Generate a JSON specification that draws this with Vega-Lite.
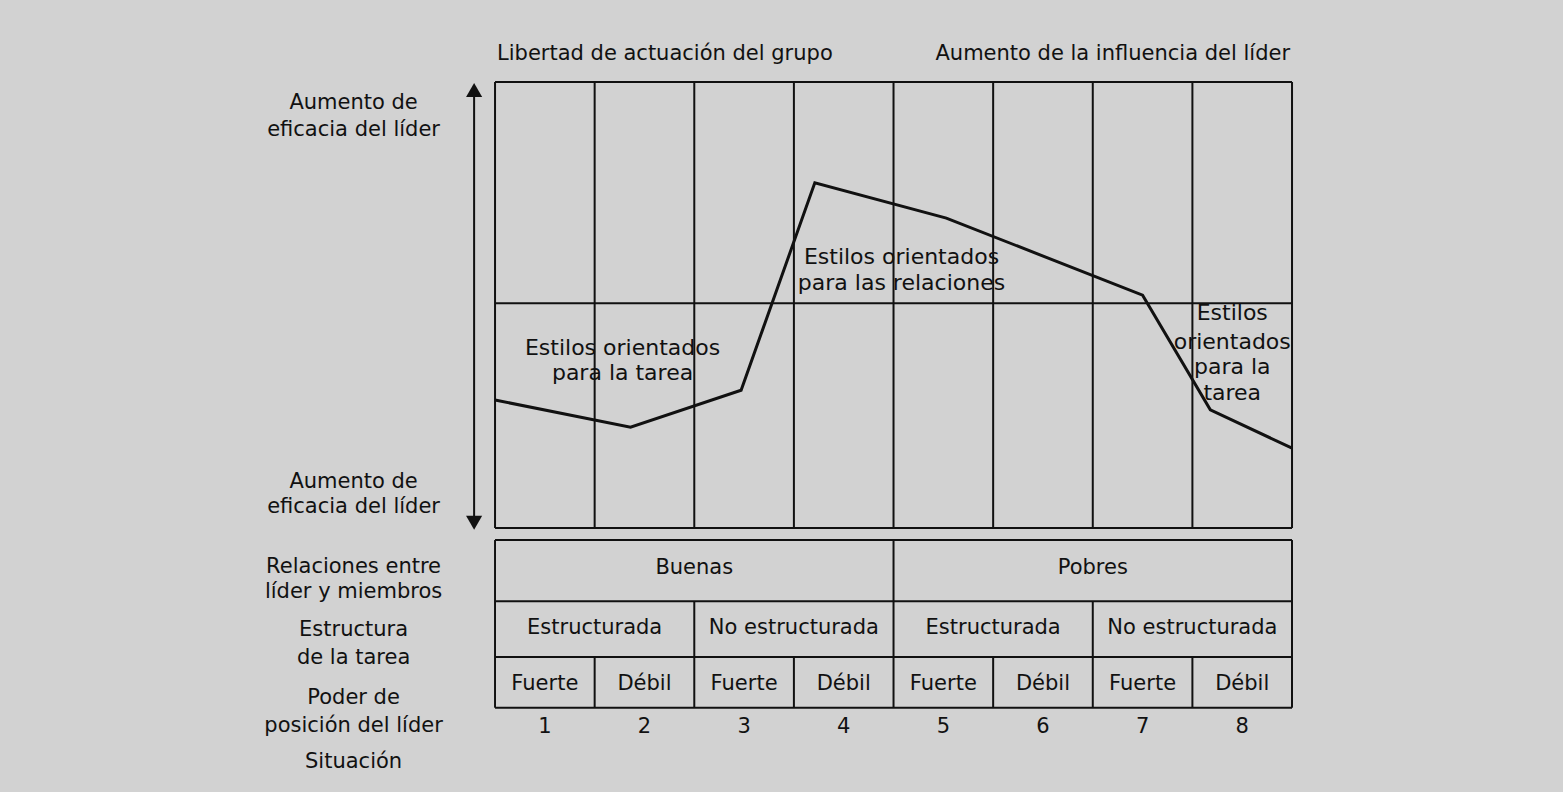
{
  "$schema": "https://vega.github.io/schema/vega-lite/v6.json",
  "width": 1563,
  "height": 792,
  "autosize": {"type": "fit", "contains": "padding"},
  "padding": 0,
  "background": "#d2d2d2",
  "config": {"view": {"stroke": null}, "text": {"font": "DejaVu Sans", "fontSize": 21, "color": "#111111"}},
  "datasets": {
    "rules": [
      {"x": 0, "x2": 0, "y": 0, "y2": 10},
      {"x": 1, "x2": 1, "y": 0, "y2": 10},
      {"x": 2, "x2": 2, "y": 0, "y2": 10},
      {"x": 3, "x2": 3, "y": 0, "y2": 10},
      {"x": 4, "x2": 4, "y": 0, "y2": 10},
      {"x": 5, "x2": 5, "y": 0, "y2": 10},
      {"x": 6, "x2": 6, "y": 0, "y2": 10},
      {"x": 7, "x2": 7, "y": 0, "y2": 10},
      {"x": 8, "x2": 8, "y": 0, "y2": 10},
      {"x": 0, "x2": 8, "y": 10, "y2": 10},
      {"x": 0, "x2": 8, "y": 5.04, "y2": 5.04},
      {"x": 0, "x2": 8, "y": 0, "y2": 0},
      {"x": 0, "x2": 8, "y": -0.27, "y2": -0.27},
      {"x": 0, "x2": 8, "y": -1.64, "y2": -1.64},
      {"x": 0, "x2": 8, "y": -2.89, "y2": -2.89},
      {"x": 0, "x2": 8, "y": -4.03, "y2": -4.03},
      {"x": 0, "x2": 0, "y": -0.27, "y2": -4.03},
      {"x": 4, "x2": 4, "y": -0.27, "y2": -4.03},
      {"x": 8, "x2": 8, "y": -0.27, "y2": -4.03},
      {"x": 2, "x2": 2, "y": -1.64, "y2": -4.03},
      {"x": 6, "x2": 6, "y": -1.64, "y2": -4.03},
      {"x": 1, "x2": 1, "y": -2.89, "y2": -4.03},
      {"x": 3, "x2": 3, "y": -2.89, "y2": -4.03},
      {"x": 5, "x2": 5, "y": -2.89, "y2": -4.03},
      {"x": 7, "x2": 7, "y": -2.89, "y2": -4.03},
      {"x": -0.21, "x2": -0.21, "y": 0.2, "y2": 9.8}
    ],
    "curve": [
      {"situation": 0, "efficacy": 2.87},
      {"situation": 1.36, "efficacy": 2.26},
      {"situation": 2.47, "efficacy": 3.09},
      {"situation": 3.21, "efficacy": 7.74},
      {"situation": 4.53, "efficacy": 6.95},
      {"situation": 6.5, "efficacy": 5.22},
      {"situation": 7.18, "efficacy": 2.65},
      {"situation": 8, "efficacy": 1.79}
    ],
    "arrows": [
      {"x": -0.21, "y": 9.82, "dir": "up"},
      {"x": -0.21, "y": 0.12, "dir": "down"}
    ],
    "centered": [
      {"x": -1.42, "y": 9.53, "label": "Aumento de"},
      {"x": -1.42, "y": 8.92, "label": "eficacia del líder"},
      {"x": -1.42, "y": 1.03, "label": "Aumento de"},
      {"x": -1.42, "y": 0.47, "label": "eficacia del líder"},
      {"x": -1.42, "y": -0.87, "label": "Relaciones entre"},
      {"x": -1.42, "y": -1.43, "label": "líder y miembros"},
      {"x": -1.42, "y": -2.29, "label": "Estructura"},
      {"x": -1.42, "y": -2.91, "label": "de la tarea"},
      {"x": -1.42, "y": -3.81, "label": "Poder de"},
      {"x": -1.42, "y": -4.44, "label": "posición del líder"},
      {"x": -1.42, "y": -5.25, "label": "Situación"},
      {"x": 2, "y": -0.9, "label": "Buenas"},
      {"x": 6, "y": -0.9, "label": "Pobres"},
      {"x": 1, "y": -2.25, "label": "Estructurada"},
      {"x": 3, "y": -2.25, "label": "No estructurada"},
      {"x": 5, "y": -2.25, "label": "Estructurada"},
      {"x": 7, "y": -2.25, "label": "No estructurada"},
      {"x": 0.5, "y": -3.5, "label": "Fuerte"},
      {"x": 1.5, "y": -3.5, "label": "Débil"},
      {"x": 2.5, "y": -3.5, "label": "Fuerte"},
      {"x": 3.5, "y": -3.5, "label": "Débil"},
      {"x": 4.5, "y": -3.5, "label": "Fuerte"},
      {"x": 5.5, "y": -3.5, "label": "Débil"},
      {"x": 6.5, "y": -3.5, "label": "Fuerte"},
      {"x": 7.5, "y": -3.5, "label": "Débil"},
      {"x": 0.5, "y": -4.46, "label": "1"},
      {"x": 1.5, "y": -4.46, "label": "2"},
      {"x": 2.5, "y": -4.46, "label": "3"},
      {"x": 3.5, "y": -4.46, "label": "4"},
      {"x": 4.5, "y": -4.46, "label": "5"},
      {"x": 5.5, "y": -4.46, "label": "6"},
      {"x": 6.5, "y": -4.46, "label": "7"},
      {"x": 7.5, "y": -4.46, "label": "8"}
    ],
    "inner": [
      {"x": 1.28, "y": 4.04, "label": "Estilos orientados"},
      {"x": 1.28, "y": 3.48, "label": "para la tarea"},
      {"x": 4.08, "y": 6.08, "label": "Estilos orientados"},
      {"x": 4.08, "y": 5.49, "label": "para las relaciones"},
      {"x": 7.4, "y": 4.82, "label": "Estilos"},
      {"x": 7.4, "y": 4.17, "label": "orientados"},
      {"x": 7.4, "y": 3.61, "label": "para la"},
      {"x": 7.4, "y": 3.03, "label": "tarea"}
    ],
    "topleft": [{"x": 0.02, "y": 10.62, "label": "Libertad de actuación del grupo"}],
    "topright": [{"x": 7.98, "y": 10.62, "label": "Aumento de la influencia del líder"}]
  },
  "encoding": {
    "x": {"type": "quantitative", "scale": {"domain": [-4.969, 10.72], "nice": false, "zero": false}, "axis": null},
    "y": {"type": "quantitative", "scale": {"domain": [-5.92, 11.84], "nice": false, "zero": false}, "axis": null}
  },
  "layer": [
    {
      "data": {"name": "rules"},
      "mark": {"type": "rule", "color": "#111111", "strokeWidth": 2},
      "encoding": {"x": {"field": "x"}, "x2": {"field": "x2"}, "y": {"field": "y"}, "y2": {"field": "y2"}}
    },
    {
      "data": {"name": "curve"},
      "mark": {"type": "line", "color": "#111111", "strokeWidth": 3},
      "encoding": {"x": {"field": "situation"}, "y": {"field": "efficacy"}}
    },
    {
      "data": {"name": "arrows"},
      "mark": {"type": "point", "filled": true, "color": "#111111", "size": 260, "opacity": 1},
      "encoding": {
        "x": {"field": "x"},
        "y": {"field": "y"},
        "shape": {"field": "dir", "type": "nominal", "scale": {"domain": ["up", "down"], "range": ["triangle-up", "triangle-down"]}, "legend": null}
      }
    },
    {
      "data": {"name": "centered"},
      "mark": {"type": "text", "align": "center", "baseline": "middle"},
      "encoding": {"x": {"field": "x"}, "y": {"field": "y"}, "text": {"field": "label"}}
    },
    {
      "data": {"name": "inner"},
      "mark": {"type": "text", "align": "center", "baseline": "middle", "fontSize": 22},
      "encoding": {"x": {"field": "x"}, "y": {"field": "y"}, "text": {"field": "label"}}
    },
    {
      "data": {"name": "topleft"},
      "mark": {"type": "text", "align": "left", "baseline": "middle"},
      "encoding": {"x": {"field": "x"}, "y": {"field": "y"}, "text": {"field": "label"}}
    },
    {
      "data": {"name": "topright"},
      "mark": {"type": "text", "align": "right", "baseline": "middle"},
      "encoding": {"x": {"field": "x"}, "y": {"field": "y"}, "text": {"field": "label"}}
    }
  ]
}
